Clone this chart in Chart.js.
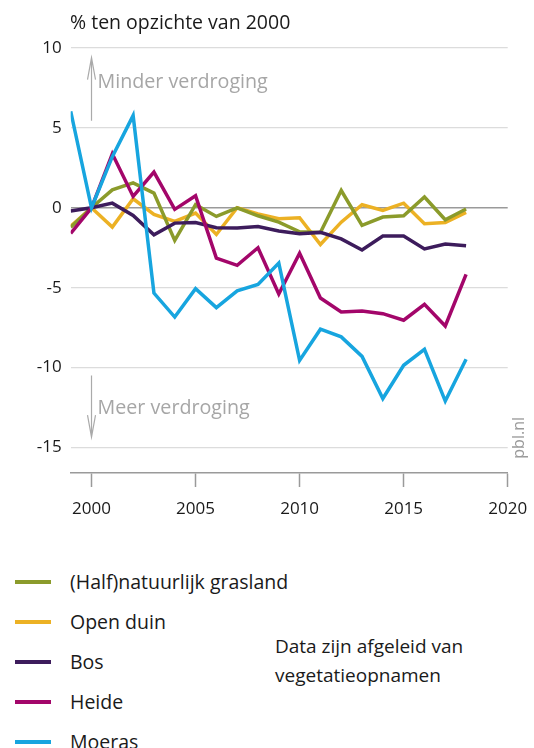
<!DOCTYPE html>
<html>
<head>
<meta charset="utf-8">
<script src="https://cdn.jsdelivr.net/npm/chart.js@4/dist/chart.umd.min.js"></script>
<style>
  html, body { margin: 0; padding: 0; background: #fff; }
  body { width: 534px; height: 748px; position: relative; overflow: hidden; font-family: "Open Sans", "Noto Sans", sans-serif; color: #1a1a1a; }
  #c { position: absolute; left: 0; top: 0; }
  .title { position: absolute; left: 70px; top: 8px; font-size: 19.5px; white-space: nowrap; }
  .leg { position: absolute; left: 0; height: 24px; font-size: 19.5px; white-space: nowrap; }
  .leg .sw { position: absolute; left: 15px; width: 36px; height: 4px; top: 10px; }
  .leg .tx { position: absolute; left: 70px; top: 0; line-height: 24px; }
  .note { position: absolute; left: 275px; top: 632px; font-size: 19px; line-height: 29px; white-space: nowrap; }
</style>
</head>
<body>
<canvas id="c" width="534" height="533"></canvas>
<div class="title">% ten opzichte van 2000</div>
<div id="legend"></div>
<div class="note">Data zijn afgeleid van<br>vegetatieopnamen</div>
<script>
const years = [1999,2000,2001,2002,2003,2004,2005,2006,2007,2008,2009,2010,2011,2012,2013,2014,2015,2016,2017,2018];
const grasland = [-1.22,0,1.12,1.56,0.92,-2.04,0.19,-0.54,0,-0.5,-0.9,-1.5,-1.55,1.08,-1.1,-0.58,-0.5,0.67,-0.75,-0.08];
const openDuin = [-1.15,0,-1.21,0.56,-0.42,-0.85,-0.33,-1.67,0,-0.38,-0.69,-0.62,-2.3,-0.9,0.19,-0.17,0.29,-1.0,-0.92,-0.29];
const bos = [-0.2,0,0.29,-0.48,-1.69,-0.96,-0.92,-1.25,-1.27,-1.17,-1.45,-1.63,-1.54,-1.95,-2.64,-1.77,-1.77,-2.58,-2.27,-2.38];
const heide = [-1.6,0,3.38,0.71,2.23,-0.1,0.75,-3.15,-3.6,-2.5,-5.4,-2.84,-5.65,-6.52,-6.46,-6.63,-7.04,-6.04,-7.4,-4.17];
const moeras = [6.04,0,3.2,5.77,-5.34,-6.84,-5.06,-6.25,-5.2,-4.8,-3.46,-9.55,-7.6,-8.08,-9.3,-11.94,-9.86,-8.86,-12.1,-9.48];

const seriesNames = ["(Half)natuurlijk grasland","Open duin","Bos","Heide","Moeras"];
const seriesData = [grasland, openDuin, bos, heide, moeras];
const seriesColors = ["#8b9b2b","#ecb124","#3d1c5c","#a3066a","#17a5df"];
const drawOrder = [3,4,2,1,0];
const xTicks = [2000,2005,2010,2015,2020];
const yTicks = [-15,-10,-5,0,5,10];
const annotations = [
  {text: "Minder verdroging", from: 5.45, to: 9.4, textY: 7.5},
  {text: "Meer verdroging", from: -10.5, to: -14.35, textY: -12.9}
];

// legend
const legendDiv = document.getElementById('legend');
const legendTops = [570, 610, 650, 690, 730];
seriesNames.forEach((n, i) => {
  const d = document.createElement('div');
  d.className = 'leg';
  d.style.top = legendTops[i] + 'px';
  d.innerHTML = '<div class="sw" style="background:' + seriesColors[i] + '"></div><div class="tx"></div>';
  d.querySelector('.tx').textContent = n;
  legendDiv.appendChild(d);
});

const annotPlugin = {
  id: 'annot',
  afterDraw(chart) {
    const ctx = chart.ctx;
    const xs = chart.scales.x, ys = chart.scales.y;
    const ax = xs.getPixelForValue(2000);
    ctx.save();
    ctx.strokeStyle = '#aaaaaa';
    ctx.fillStyle = '#a6a6a6';
    ctx.lineWidth = 1.2;
    ctx.font = '19.7px "Open Sans", "Noto Sans", sans-serif';
    ctx.textBaseline = 'alphabetic';
    annotations.forEach(a => {
      const y1 = ys.getPixelForValue(a.from), y2 = ys.getPixelForValue(a.to);
      const dir = y2 < y1 ? 1 : -1;
      ctx.beginPath();
      ctx.moveTo(ax, y1); ctx.lineTo(ax, y2);
      ctx.moveTo(ax - 4, y2 + dir * 22); ctx.lineTo(ax, y2); ctx.lineTo(ax + 4, y2 + dir * 22);
      ctx.stroke();
      ctx.fillText(a.text, ax + 6, ys.getPixelForValue(a.textY));
    });
    // source
    ctx.translate(519, ys.getPixelForValue(-14.4));
    ctx.rotate(-Math.PI / 2);
    ctx.textAlign = 'center';
    ctx.textBaseline = 'middle';
    ctx.font = '16px "Open Sans", "Noto Sans", sans-serif';
    ctx.fillStyle = '#9a9a9a';
    ctx.fillText('pbl.nl', 0, 0);
    ctx.restore();
  }
};

new Chart(document.getElementById('c'), {
  type: 'line',
  data: {
    datasets: seriesNames.map((n, i) => ({
      label: n,
      data: years.map((y, k) => ({x: y, y: seriesData[i][k]})),
      borderColor: seriesColors[i],
      backgroundColor: seriesColors[i],
      borderWidth: 3.5,
      pointRadius: 0,
      tension: 0,
      fill: false,
      order: drawOrder[i],
      borderJoinStyle: 'miter',
      borderCapStyle: 'butt'
    }))
  },
  options: {
    responsive: false,
    animation: false,
    devicePixelRatio: 1,
    layout: { padding: { top: 48, right: 26.3, left: 0, bottom: 0 } },
    plugins: { legend: { display: false }, tooltip: { enabled: false }, title: { display: false } },
    scales: {
      x: {
        type: 'linear',
        min: 1999, max: 2020,
        afterFit(s) { s.height = 60; s.paddingLeft = 0; s.paddingRight = 0; },
        afterBuildTicks(s) { s.ticks = xTicks.map(v => ({value: v})); },
        ticks: { color: '#1a1a1a', font: { size: 17, family: '"Open Sans", "Noto Sans", sans-serif' }, padding: 12, maxRotation: 0, callback: v => String(v) },
        grid: { drawOnChartArea: false, drawTicks: true, tickLength: 14, tickColor: '#9a9a9a', tickWidth: 1.5 },
        border: { display: true, color: '#9a9a9a', width: 1.5 }
      },
      y: {
        min: -16.6, max: 10,
        afterFit(s) { s.width = 70.7; s.paddingTop = 0; s.paddingBottom = 0; },
        afterBuildTicks(s) { s.ticks = yTicks.map(v => ({value: v})); },
        ticks: { color: '#1a1a1a', font: { size: 17, family: '"Open Sans", "Noto Sans", sans-serif' }, padding: 9 },
        grid: {
          drawTicks: false,
          color: c => (c.tick && c.tick.value === 0) ? '#9a9a9a' : '#dcdcdc',
          lineWidth: c => (c.tick && c.tick.value === 0) ? 1.5 : 1.2
        },
        border: { display: false }
      }
    }
  },
  plugins: [annotPlugin]
});
</script>
</body>
</html>
